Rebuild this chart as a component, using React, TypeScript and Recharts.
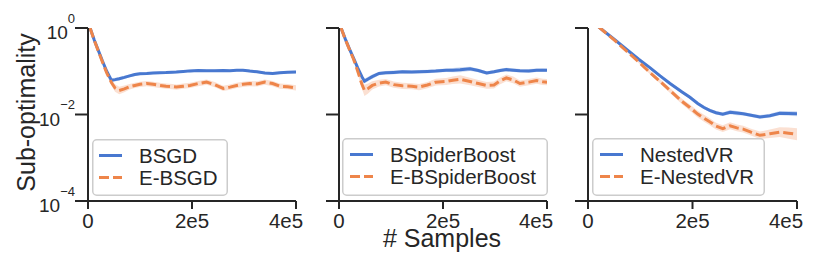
import React from 'react';
import { ComposedChart, Line, Area, XAxis, YAxis, Legend } from 'recharts';

const FONT = '"Liberation Sans", Arial, Helvetica, sans-serif';
const INK = '#262626';
const BLUE = '#4878d0';
const ORANGE = '#ee854a';

const yTicks = [1e-4, 1e-2, 1];
const xTicks = [0, 200000, 400000];
const xTickLabels = ['0', '2e5', '4e5'];

// ---- Panel 1: BSGD vs E-BSGD (x in thousands of samples)
const p1X = [4, 12, 20, 28, 36, 45, 52, 60, 70, 80, 90, 100, 113, 125, 138, 150, 162, 170, 183, 196, 212, 228, 244, 260, 273, 286, 298, 311, 325, 340, 355, 369, 384, 400];
const p1Blue = [1.0, 0.53, 0.30, 0.17, 0.10, 0.062, 0.064, 0.067, 0.072, 0.078, 0.084, 0.088, 0.089, 0.091, 0.092, 0.093, 0.095, 0.096, 0.099, 0.102, 0.104, 0.103, 0.103, 0.104, 0.103, 0.105, 0.106, 0.101, 0.097, 0.091, 0.089, 0.092, 0.095, 0.096];
const p1BlueSpread = [0.02, 0.03, 0.04, 0.05, 0.07, 0.1, 0.1, 0.1, 0.09, 0.08, 0.08, 0.08, 0.08, 0.07, 0.07, 0.07, 0.07, 0.07, 0.07, 0.07, 0.07, 0.07, 0.07, 0.07, 0.07, 0.07, 0.07, 0.07, 0.07, 0.07, 0.07, 0.07, 0.07, 0.07];
const p1Orange = [1.0, 0.52, 0.29, 0.16, 0.092, 0.055, 0.041, 0.036, 0.039, 0.044, 0.047, 0.05, 0.052, 0.05, 0.047, 0.045, 0.044, 0.043, 0.045, 0.047, 0.052, 0.056, 0.049, 0.04, 0.043, 0.047, 0.05, 0.052, 0.051, 0.056, 0.052, 0.045, 0.044, 0.041];
const p1OrangeSpread = [0.02, 0.04, 0.06, 0.08, 0.12, 0.18, 0.22, 0.22, 0.2, 0.16, 0.15, 0.15, 0.15, 0.15, 0.15, 0.15, 0.15, 0.15, 0.15, 0.15, 0.15, 0.15, 0.15, 0.15, 0.15, 0.15, 0.15, 0.15, 0.15, 0.15, 0.15, 0.15, 0.15, 0.15];

// ---- Panel 2: BSpiderBoost vs E-BSpiderBoost
const p2X = [4, 12, 20, 28, 36, 44, 49, 56, 64, 77, 90, 105, 122, 140, 154, 170, 186, 206, 219, 233, 252, 268, 284, 298, 310, 322, 335, 348, 365, 380, 392, 400];
const p2Blue = [1.0, 0.56, 0.33, 0.20, 0.12, 0.075, 0.059, 0.066, 0.075, 0.089, 0.092, 0.094, 0.097, 0.096, 0.097, 0.099, 0.101, 0.105, 0.106, 0.108, 0.114, 0.104, 0.091, 0.097, 0.104, 0.109, 0.106, 0.103, 0.102, 0.105, 0.106, 0.105];
const p2BlueSpread = [0.02, 0.03, 0.04, 0.06, 0.08, 0.12, 0.14, 0.13, 0.12, 0.1, 0.1, 0.1, 0.1, 0.1, 0.1, 0.1, 0.1, 0.1, 0.12, 0.14, 0.12, 0.1, 0.1, 0.1, 0.1, 0.1, 0.1, 0.1, 0.1, 0.1, 0.1, 0.1];
const p2Orange = [1.0, 0.55, 0.32, 0.19, 0.10, 0.05, 0.036, 0.04, 0.047, 0.053, 0.056, 0.049, 0.046, 0.045, 0.043, 0.048, 0.056, 0.058, 0.062, 0.065, 0.058, 0.052, 0.047, 0.048, 0.06, 0.07, 0.063, 0.052, 0.056, 0.061, 0.057, 0.056];
const p2OrangeSpread = [0.02, 0.04, 0.07, 0.1, 0.15, 0.25, 0.35, 0.3, 0.25, 0.2, 0.18, 0.18, 0.18, 0.18, 0.18, 0.18, 0.2, 0.2, 0.22, 0.24, 0.22, 0.2, 0.2, 0.2, 0.2, 0.2, 0.2, 0.18, 0.18, 0.18, 0.18, 0.18];

// ---- Panel 3: NestedVR vs E-NestedVR
const p3X = [0, 23, 50, 74, 97, 119, 138, 157, 180, 195, 210, 222, 233, 245, 258, 272, 285, 297, 312, 329, 348, 367, 384, 400];
const p3Blue = [1.72, 1.0, 0.55, 0.32, 0.19, 0.12, 0.078, 0.052, 0.033, 0.025, 0.018, 0.0145, 0.0124, 0.011, 0.0101, 0.0113, 0.0108, 0.0104, 0.0096, 0.0088, 0.0094, 0.0107, 0.0106, 0.0104];
const p3BlueSpread = [0.02, 0.02, 0.03, 0.04, 0.05, 0.06, 0.07, 0.08, 0.09, 0.1, 0.1, 0.1, 0.1, 0.1, 0.1, 0.12, 0.12, 0.1, 0.1, 0.1, 0.1, 0.12, 0.14, 0.14];
const p3Orange = [1.72, 1.0, 0.53, 0.29, 0.165, 0.092, 0.058, 0.036, 0.02, 0.0145, 0.0102, 0.0082, 0.0068, 0.0054, 0.0047, 0.0055, 0.0049, 0.0046, 0.0039, 0.0033, 0.0036, 0.0039, 0.0037, 0.0035];
const p3OrangeSpread = [0.02, 0.02, 0.03, 0.05, 0.07, 0.1, 0.12, 0.14, 0.16, 0.18, 0.2, 0.2, 0.2, 0.2, 0.2, 0.2, 0.2, 0.2, 0.2, 0.22, 0.25, 0.3, 0.35, 0.38];

const buildRows = (xs: number[], blue: number[], bs: number[], orange: number[], os: number[]) =>
  xs.map((k, i) => ({
    x: k * 1000,
    blue: blue[i],
    blueBand: [blue[i] / (1 + bs[i]), blue[i] * (1 + bs[i])],
    orange: orange[i],
    orangeBand: [orange[i] / (1 + os[i]), orange[i] * (1 + os[i])],
  }));

const YTick = (props: any) => {
  const { x, y, payload } = props;
  const e = Math.round(Math.log10(payload.value));
  const exp = e < 0 ? '\u2212' + String(-e) : String(e);
  return (
    <text x={x} y={y + 11} textAnchor="end" fontFamily={FONT} fontSize={19} fill={INK}>
      <tspan>10</tspan>
      <tspan dy={-16.5} fontSize={13}>{exp}</tspan>
    </text>
  );
};

const NoTick = () => <g />;

const XTick = (props: any) => {
  const { x, y, payload } = props;
  const i = xTicks.indexOf(payload.value);
  return (
    <text x={x} y={y + 18.5} textAnchor="middle" fontFamily={FONT} fontSize={20.5} fill={INK}>
      {i >= 0 ? xTickLabels[i] : ''}
    </text>
  );
};

type LegendGeo = { left: number; top: number; w: number; h: number; lineX: number; textX: number };

const LegendBox = ({ geo, names }: { geo: LegendGeo; names: string[] }) => (
  <svg width={geo.w} height={geo.h} style={{ display: 'block' }}>
    <rect x={0.75} y={0.75} width={geo.w - 1.5} height={geo.h - 1.5} rx={4} ry={4} fill="#ffffff" fillOpacity={0.8} stroke="#cccccc" strokeWidth={1.5} />
    <line x1={geo.lineX} x2={geo.lineX + 23} y1={16.5} y2={16.5} stroke={BLUE} strokeWidth={3} />
    <text x={geo.textX} y={23.8} fontFamily={FONT} fontSize={20.5} fill={INK}>{names[0]}</text>
    <line x1={geo.lineX} x2={geo.lineX + 23} y1={38.5} y2={38.5} stroke={ORANGE} strokeWidth={3} strokeDasharray="10 4" />
    <text x={geo.textX} y={45.5} fontFamily={FONT} fontSize={20.5} fill={INK}>{names[1]}</text>
  </svg>
);

type PanelProps = {
  rows: any[];
  names: string[];
  left: number;
  width: number;
  yAxisWidth: number;
  marginLeft: number;
  marginRight: number;
  showYTickLabels: boolean;
  yLabel?: string;
  xLabel?: string;
  legend: LegendGeo;
};

const Panel = (p: PanelProps) => (
  <div style={{ position: 'absolute', left: p.left, top: 0, width: p.width, height: 268 }}>
    <ComposedChart
      width={p.width}
      height={268}
      data={p.rows}
      margin={{ top: 28, right: p.marginRight, bottom: 37, left: p.marginLeft }}
    >
      <XAxis
        dataKey="x"
        type="number"
        domain={[0, 400000]}
        allowDataOverflow
        ticks={xTicks}
        tickSize={8}
        tickMargin={0}
        tick={XTick}
        height={30}
        axisLine={{ stroke: INK, strokeWidth: 2 }}
        tickLine={{ stroke: INK, strokeWidth: 2 }}
        label={
          p.xLabel
            ? {
                content: (lp: any) => {
                  const vb = lp.viewBox || {};
                  return (
                    <text x={(vb.x || 0) + (vb.width || 0) / 2 - 1} y={247} textAnchor="middle" fontFamily={FONT} fontSize={25} fill={INK}>
                      {p.xLabel}
                    </text>
                  );
                },
              }
            : undefined
        }
      />
      <YAxis
        type="number"
        scale="log"
        domain={[1e-4, 1]}
        allowDataOverflow
        ticks={yTicks}
        width={p.yAxisWidth}
        tickSize={13}
        tickMargin={0}
        tick={p.showYTickLabels ? YTick : NoTick}
        axisLine={{ stroke: INK, strokeWidth: 2 }}
        tickLine={{ stroke: INK, strokeWidth: 2 }}
        label={
          p.yLabel
            ? {
                content: () => (
                  <text transform="translate(35,112.5) rotate(-90)" textAnchor="middle" fontFamily={FONT} fontSize={25} fill={INK}>
                    {p.yLabel}
                  </text>
                ),
              }
            : undefined
        }
      />
      <Area dataKey="blueBand" stroke="none" fill={BLUE} fillOpacity={0.25} isAnimationActive={false} dot={false} activeDot={false} legendType="none" />
      <Line dataKey="blue" name={p.names[0]} stroke={BLUE} strokeWidth={3} dot={false} activeDot={false} isAnimationActive={false} />
      <Area dataKey="orangeBand" stroke="none" fill={ORANGE} fillOpacity={0.25} isAnimationActive={false} dot={false} activeDot={false} legendType="none" />
      <Line dataKey="orange" name={p.names[1]} stroke={ORANGE} strokeWidth={3} strokeDasharray="10 4" dot={false} activeDot={false} isAnimationActive={false} />
      <Legend
        layout="horizontal"
        verticalAlign="middle"
        align="center"
        wrapperStyle={{ position: 'absolute', left: p.legend.left, top: p.legend.top, width: p.legend.w, height: p.legend.h, margin: 0, padding: 0 }}
        content={() => <LegendBox geo={p.legend} names={p.names} />}
      />
    </ComposedChart>
  </div>
);

export default function App() {
  const rows1 = buildRows(p1X, p1Blue, p1BlueSpread, p1Orange, p1OrangeSpread);
  const rows2 = buildRows(p2X, p2Blue, p2BlueSpread, p2Orange, p2OrangeSpread);
  const rows3 = buildRows(p3X, p3Blue, p3BlueSpread, p3Orange, p3OrangeSpread);
  return (
    <div style={{ position: 'absolute', left: 0, top: 0, width: 830, height: 268, background: '#ffffff', fontFamily: FONT }}>
      <Panel
        rows={rows1}
        names={['BSGD', 'E-BSGD']}
        left={0}
        width={310}
        yAxisWidth={60}
        marginLeft={28}
        marginRight={14}
        showYTickLabels
        yLabel="Sub-optimality"
        legend={{ left: 92, top: 139, w: 136, h: 57, lineX: 7, textX: 47 }}
      />
      <Panel
        rows={rows2}
        names={['BSpiderBoost', 'E-BSpiderBoost']}
        left={300}
        width={260}
        yAxisWidth={39}
        marginLeft={0}
        marginRight={13}
        showYTickLabels={false}
        xLabel="# Samples"
        legend={{ left: 41.7, top: 138, w: 206, h: 58, lineX: 8, textX: 48 }}
      />
      <Panel
        rows={rows3}
        names={['NestedVR', 'E-NestedVR']}
        left={550}
        width={260}
        yAxisWidth={38}
        marginLeft={0}
        marginRight={13}
        showYTickLabels={false}
        legend={{ left: 41.7, top: 138, w: 173, h: 58, lineX: 8, textX: 48 }}
      />
    </div>
  );
}
